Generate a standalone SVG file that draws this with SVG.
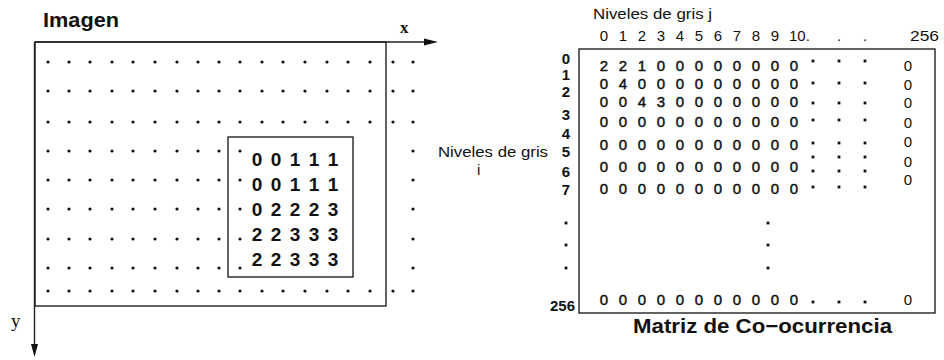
<svg xmlns="http://www.w3.org/2000/svg" xmlns:xlink="http://www.w3.org/1999/xlink" width="944" height="360" viewBox="0 0 944 360">
<style>
.t{font-family:"Liberation Sans",Arial,sans-serif;fill:#111}
.b{font-weight:bold}
.v{font-size:15px;text-anchor:middle}
.vv{stroke:#111;stroke-width:0.45}
.lbl{font-size:15px;font-weight:bold;text-anchor:end}
.ser{font-family:"Liberation Serif","Times New Roman",serif;fill:#111}
.ln{stroke:#222;stroke-width:1.4;fill:none}
.dg{fill:#111}
.in{font-size:19px;font-weight:bold;text-anchor:middle}
</style>
<defs>
<g id="rowFull" class="dg">
<circle cx="48" cy="0" r="1.6"/><circle cx="69" cy="0" r="1.6"/><circle cx="90" cy="0" r="1.6"/><circle cx="112" cy="0" r="1.6"/><circle cx="133" cy="0" r="1.6"/><circle cx="155" cy="0" r="1.6"/><circle cx="177" cy="0" r="1.6"/><circle cx="198" cy="0" r="1.6"/><circle cx="219" cy="0" r="1.6"/><circle cx="240" cy="0" r="1.6"/><circle cx="262" cy="0" r="1.6"/><circle cx="283" cy="0" r="1.6"/><circle cx="305" cy="0" r="1.6"/><circle cx="327" cy="0" r="1.6"/><circle cx="348" cy="0" r="1.6"/><circle cx="370" cy="0" r="1.6"/><circle cx="393" cy="0" r="1.6"/><circle cx="413" cy="0" r="1.6"/>
</g>
<g id="rowPart" class="dg">
<circle cx="48" cy="0" r="1.6"/><circle cx="69" cy="0" r="1.6"/><circle cx="90" cy="0" r="1.6"/><circle cx="112" cy="0" r="1.6"/><circle cx="133" cy="0" r="1.6"/><circle cx="155" cy="0" r="1.6"/><circle cx="177" cy="0" r="1.6"/><circle cx="198" cy="0" r="1.6"/><circle cx="219" cy="0" r="1.6"/><circle cx="240" cy="0" r="1.6"/><circle cx="413" cy="0" r="1.6"/>
</g>
<g id="mdots" class="dg">
<rect x="811.6" y="-1.4" width="2.8" height="2.8"/><rect x="837.6" y="-1.4" width="2.8" height="2.8"/><rect x="863.6" y="-1.4" width="2.8" height="2.8"/>
</g>
<g id="vdot" class="dg">
<rect x="-1.4" y="-1.4" width="2.8" height="2.8"/>
</g>
</defs>
<rect width="944" height="360" fill="#fff"/>

<!-- Left: Imagen -->
<g id="imagen">
<text class="t b" x="43" y="27" font-size="20" textLength="76" lengthAdjust="spacingAndGlyphs">Imagen</text>
<rect class="ln" x="35" y="42" width="351" height="264"/>
<use xlink:href="#rowFull" y="62"/>
<use xlink:href="#rowFull" y="91"/>
<use xlink:href="#rowFull" y="122"/>
<use xlink:href="#rowPart" y="151"/>
<use xlink:href="#rowPart" y="180"/>
<use xlink:href="#rowPart" y="209"/>
<use xlink:href="#rowPart" y="239"/>
<use xlink:href="#rowPart" y="268"/>
<use xlink:href="#rowFull" y="291"/>
</g>

<g id="axes">
<line class="ln" x1="35" y1="42" x2="426" y2="42"/>
<polygon points="438,42 424,38.5 424,45.5" fill="#111"/>
<line class="ln" x1="34.5" y1="42" x2="34.5" y2="346"/>
<polygon points="34.5,357 31,344 38,344" fill="#111"/>
<text class="ser b" x="400" y="33" font-size="17">x</text>
<text class="ser" x="11" y="327" font-size="19">y</text>
</g>

<g id="ventana">
<rect class="ln" x="228" y="137" width="125" height="140"/>
<text class="t in" x="257 276 295 314 333" y="166">00111</text>
<text class="t in" x="257 276 295 314 333" y="191">00111</text>
<text class="t in" x="257 276 295 314 333" y="216">02223</text>
<text class="t in" x="257 276 295 314 333" y="241">22333</text>
<text class="t in" x="257 276 295 314 333" y="266">22333</text>
</g>

<!-- Right: Matriz -->
<g id="matriz">
<text class="t" x="593" y="19" font-size="15" textLength="119" lengthAdjust="spacingAndGlyphs">Niveles de gris j</text>
<text class="t v" x="604 623 642 661 680 699 718 737 756 775" y="41">0123456789</text>
<text class="t" x="789" y="41" font-size="15">10.</text>
<text class="t v" x="839" y="41">.</text>
<text class="t v" x="865" y="41">.</text>
<text class="t" x="910" y="41" font-size="15" textLength="29" lengthAdjust="spacingAndGlyphs">256</text>

<text class="t" x="438" y="157" font-size="15" textLength="110" lengthAdjust="spacingAndGlyphs">Niveles de gris</text>
<text class="t" x="477" y="175" font-size="15">i</text>

<text class="t lbl" x="570" y="64">0</text>
<text class="t lbl" x="570" y="80">1</text>
<text class="t lbl" x="570" y="97">2</text>
<text class="t lbl" x="570" y="120">3</text>
<text class="t lbl" x="570" y="139">4</text>
<text class="t lbl" x="570" y="157">5</text>
<text class="t lbl" x="570" y="177">6</text>
<text class="t lbl" x="570" y="195">7</text>
<text class="t lbl" x="575" y="311">256</text>

<rect class="ln" x="579" y="49" width="356" height="264"/>

<text class="t v vv" x="604 623 642 661 680 699 718 737 756 775 794" y="71">22100000000</text>
<text class="t v vv" x="604 623 642 661 680 699 718 737 756 775 794" y="89">04000000000</text>
<text class="t v vv" x="604 623 642 661 680 699 718 737 756 775 794" y="107">00430000000</text>
<text class="t v vv" x="604 623 642 661 680 699 718 737 756 775 794" y="127">00000000000</text>
<text class="t v vv" x="604 623 642 661 680 699 718 737 756 775 794" y="150">00000000000</text>
<text class="t v vv" x="604 623 642 661 680 699 718 737 756 775 794" y="172">00000000000</text>
<text class="t v vv" x="604 623 642 661 680 699 718 737 756 775 794" y="194">00000000000</text>
<text class="t v vv" x="604 623 642 661 680 699 718 737 756 775 794" y="305">00000000000</text>

<text class="t v" x="908" y="71">0</text>
<text class="t v" x="908" y="90">0</text>
<text class="t v" x="908" y="108">0</text>
<text class="t v" x="908" y="128">0</text>
<text class="t v" x="908" y="147">0</text>
<text class="t v" x="908" y="167">0</text>
<text class="t v" x="908" y="185">0</text>
<text class="t v" x="908" y="305">0</text>

<use xlink:href="#mdots" y="61"/>
<use xlink:href="#mdots" y="83"/>
<use xlink:href="#mdots" y="103"/>
<use xlink:href="#mdots" y="120"/>
<use xlink:href="#mdots" y="143"/>
<use xlink:href="#mdots" y="157"/>
<use xlink:href="#mdots" y="171"/>
<use xlink:href="#mdots" y="187"/>
<use xlink:href="#mdots" y="302"/>

<use xlink:href="#vdot" x="566" y="223"/>
<use xlink:href="#vdot" x="566" y="245"/>
<use xlink:href="#vdot" x="566" y="268"/>
<use xlink:href="#vdot" x="768" y="223"/>
<use xlink:href="#vdot" x="768" y="245"/>
<use xlink:href="#vdot" x="768" y="268"/>

<text class="t b" x="633" y="333" font-size="21" textLength="259" lengthAdjust="spacingAndGlyphs">Matriz de Co−ocurrencia</text>
</g>
</svg>
